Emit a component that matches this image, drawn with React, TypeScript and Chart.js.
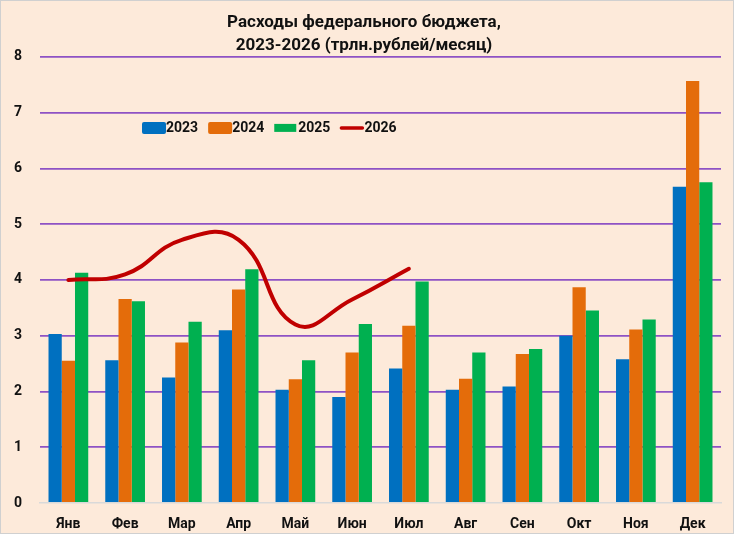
import React, { useEffect, useRef } from "react";
import { Chart, registerables } from "chart.js";

Chart.register(...registerables);

const months = ["Янв", "Фев", "Мар", "Апр", "Май", "Июн", "Июл", "Авг", "Сен", "Окт", "Ноя", "Дек"];
const s2023 = [3.03, 2.56, 2.25, 3.1, 2.03, 1.9, 2.41, 2.03, 2.09, 3.0, 2.58, 5.67];
const s2024 = [2.55, 3.66, 2.88, 3.83, 2.22, 2.7, 3.18, 2.23, 2.67, 3.87, 3.11, 7.57];
const s2025 = [4.13, 3.62, 3.25, 4.19, 2.56, 3.21, 3.97, 2.7, 2.76, 3.45, 3.29, 5.75];
const s2026 = [4.0, 4.1, 4.72, 4.72, 3.2, 3.65, 4.2];
const titleLines = ["Расходы федерального бюджета,", "2023-2026 (трлн.рублей/месяц)"];
const yTicks = [0, 1, 2, 3, 4, 5, 6, 7, 8];

const FONT = "Roboto";

const legendPlugin = {
  id: "insideLegend",
  afterDraw(chart: any) {
    const { ctx, chartArea } = chart;
    const y = chartArea.top + 71;
    let x = chartArea.left + 102;
    ctx.save();
    ctx.font = `bold 14px ${FONT}`;
    ctx.textBaseline = "middle";
    chart.data.datasets.forEach((ds: any, i: number) => {
      const isLine = ds.type === "line";
      ctx.fillStyle = ds.backgroundColor;
      if (isLine) {
        ctx.strokeStyle = ds.borderColor;
        ctx.lineWidth = 3.5;
        ctx.lineCap = "round";
        ctx.beginPath();
        ctx.moveTo(x + 1, y);
        ctx.lineTo(x + 22, y);
        ctx.stroke();
      } else if (i === 2) {
        ctx.fillRect(x, y - 4, 22, 8);
      } else {
        ctx.beginPath();
        ctx.roundRect(x, y - 6, 24, 12, 2);
        ctx.fill();
      }
      ctx.fillStyle = "#111";
      const tx = x + 24;
      ctx.fillText(ds.label, tx, y + 1);
      x = tx + ctx.measureText(ds.label).width + 10;
    });
    ctx.restore();
  },
};

export default function App() {
  const ref = useRef<HTMLCanvasElement>(null);
  useEffect(() => {
    if (!ref.current) return;
    const purple = "#8E52C4";
    const chart = new Chart(ref.current, {
      type: "bar",
      data: {
        labels: months,
        datasets: [
          { label: "2023", data: s2023, backgroundColor: "#0070C0", order: 1 },
          { label: "2024", data: s2024, backgroundColor: "#E46C0A", order: 1 },
          { label: "2025", data: s2025, backgroundColor: "#00B050", order: 1 },
          { type: "line", label: "2026", data: s2026, borderColor: "#C00000", backgroundColor: "#C00000", borderWidth: 4, pointRadius: 0, tension: 0.45, order: 0, borderCapStyle: "round" } as any,
        ],
      },
      options: {
        animation: false,
        responsive: false,
        maintainAspectRatio: false,
        layout: { padding: { left: 6, right: 12, top: 0, bottom: 0 } },
        datasets: { bar: { categoryPercentage: 0.7, barPercentage: 1.0 } },
        plugins: {
          legend: { display: false },
          tooltip: { enabled: false },
          title: {
            display: true,
            text: titleLines,
            font: { family: FONT, size: 17, weight: "bold", lineHeight: 1.35 },
            color: "#111",
            padding: { top: 10, bottom: 0 },
          },
        },
        scales: {
          x: {
            grid: { display: false },
            border: { display: true, color: "#D9D9D9", width: 1.5 },
            ticks: { font: { family: FONT, size: 14, weight: "bold" }, color: "#111", padding: 5 },
            afterFit: (axis: any) => {
              axis.height = 30;
            },
          },
          y: {
            min: 0,
            max: 8,
            afterBuildTicks: (axis: any) => {
              axis.ticks = yTicks.map((v) => ({ value: v }));
            },
            afterFit: (axis: any) => {
              axis.width = 33;
            },
            grid: {
              color: (c: any) => (c.tick && c.tick.value === 0 ? "rgba(0,0,0,0)" : purple),
              lineWidth: 1.8,
              drawTicks: false,
            },
            border: { display: false },
            ticks: { font: { family: FONT, size: 14, weight: "bold" }, color: "#111", padding: 18 },
          },
        },
      },
      plugins: [legendPlugin],
    } as any);
    return () => chart.destroy();
  }, []);
  return (
    <div
      style={{
        position: "fixed",
        left: 0,
        top: 0,
        width: 734,
        height: 534,
        boxSizing: "border-box",
        border: "1px solid #D0D0D0",
        background: "#FDEADA",
      }}
    >
      <canvas ref={ref} width={732} height={532} style={{ display: "block" }} />
    </div>
  );
}
